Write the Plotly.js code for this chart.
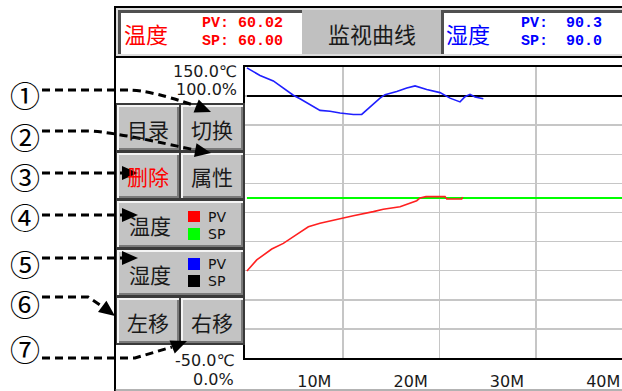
<!DOCTYPE html>
<html><head><meta charset="utf-8">
<script src="https://cdn.plot.ly/plotly-3.0.1.min.js"></script>
<style>html,body{margin:0;padding:0;background:#fff;overflow:hidden}#chart{width:622px;height:391px}</style>
</head><body><div id="chart"></div>
<script>
// ---------- data (minutes, values) ----------
const tempTime = [0, 1.02, 2.58, 3.78, 4.99, 6.38, 7.59, 9.67, 11.05, 13.13, 14.16, 15.9, 17.63, 17.98, 18.6, 20.57, 20.75, 22.3, 22.4];
const tempPV   = [9.8, 17.4, 24.9, 28.8, 34.1, 40.2, 42.6, 46.0, 47.8, 50.6, 52.2, 54.0, 58.1, 60.0, 60.9, 60.9, 59.3, 59.3, 60.6];
const humTime  = [0, 1.36, 2.74, 4.82, 5.51, 7.59, 8.63, 9.67, 11.05, 11.92, 13.82, 14.34, 15.56, 16.6, 17.46, 18.67, 20.05, 21.09, 22.13, 22.65, 23.17, 23.69, 24.55];
const humPV    = [99.7, 97.1, 95.2, 90.3, 89.1, 85.1, 84.8, 84.2, 83.7, 83.7, 89.3, 90.5, 91.6, 92.8, 93.5, 92.3, 91.2, 89.3, 88.0, 89.8, 90.6, 89.7, 89.1];
const spTime   = [0, 40];
const tempSP   = [60, 60];
const humSP    = [90, 90];
const tempRange = [-50, 150];
const humRange  = [0, 100];
const xTickVals = [10, 20, 30, 40];
const xTickText = ['10M', '20M', '30M', '40M'];
const tempPVNow = '60.02', tempSPNow = '60.00';
const humPVNow = '90.3', humSPNow = '90.0';
const headerTitle = '监视曲线';
const tempName = '温度', humName = '湿度';
const buttonLabels = ['目录', '切换', '删除', '属性', '温度', '湿度', '左移', '右移'];
const calloutLabels = ['①', '②', '③', '④', '⑤', '⑥', '⑦'];

// ---------- helpers (pixel -> paper) ----------
const W = 622, H = 391;
const X = p => p / W, Y = p => 1 - p / H;
const shapes = [], annotations = [];
const CJK = '"Noto Sans CJK SC", sans-serif';
const MONO = '"Liberation Mono", monospace';
const SANS = '"DejaVu Sans", sans-serif';
function rect(x0, y0, x1, y1, fill) {
  shapes.push({type: 'rect', xref: 'paper', yref: 'paper', x0: X(x0), x1: X(x1), y0: Y(y1), y1: Y(y0), fillcolor: fill, line: {width: 0}, layer: 'above'});
}
function hline(x0, x1, y, color, w) {
  shapes.push({type: 'line', xref: 'paper', yref: 'paper', x0: X(x0), x1: X(x1), y0: Y(y), y1: Y(y), line: {color: color, width: w}, layer: 'above'});
}
function vline(x, y0, y1, color, w) {
  shapes.push({type: 'line', xref: 'paper', yref: 'paper', x0: X(x), x1: X(x), y0: Y(y0), y1: Y(y1), line: {color: color, width: w}, layer: 'above'});
}
function text(t, x, y, size, color, family, xanchor) {
  annotations.push({xref: 'paper', yref: 'paper', x: X(x), y: Y(y), text: t, showarrow: false, xanchor: xanchor || 'center', yanchor: 'middle', font: {size: size, color: color, family: family}});
}
function pth(pts) { // pts: array of [cmd, x, y, ...]
  return pts.map(s => s[0] + s.slice(1).reduce((a, v, i) => a + (i % 2 === 0 ? X(v) : ',' + Y(v) + ' '), '')).join(' ');
}
function dashed(pts) {
  shapes.push({type: 'path', xref: 'paper', yref: 'paper', path: pth(pts), line: {color: '#000', width: 3, dash: '8px,5px'}, layer: 'above'});
}
function head(tx, ty, dx, dy) {
  const L = Math.hypot(dx, dy), ux = dx / L, uy = dy / L, len = 16, hw = 7;
  const bx = tx - ux * len, by = ty - uy * len;
  shapes.push({type: 'path', xref: 'paper', yref: 'paper', layer: 'above',
    path: `M${X(tx)},${Y(ty)} L${X(bx - uy * hw)},${Y(by + ux * hw)} L${X(bx + uy * hw)},${Y(by - ux * hw)} Z`,
    fillcolor: '#000', line: {width: 0}});
}
function button(x0, y0, x1, y1, label, color, tx) {
  rect(x0, y0, x1, y1, '#f4f4f4');
  rect(x0 + 2, y0 + 2, x1, y1, '#7a7a7a');
  rect(x0 + 2, y0 + 2, x1 - 2, y1 - 2, '#c3c3c3');
  text(label, tx || (x0 + x1) / 2, (y0 + y1) / 2 + 1, 21, color, CJK);
}

// ---------- frame & header ----------
rect(115, 7, 622, 57, '#dcdcdc');
rect(302, 10, 441, 54, '#c0c0c0');
rect(118, 10, 302, 54, '#505050');
rect(121, 13, 302, 54, '#ffffff');
rect(441, 10, 622, 54, '#505050');
rect(444, 13, 622, 54, '#ffffff');
hline(114, 622, 7, '#000', 2);
hline(114, 622, 57, '#000', 2);
vline(115, 6, 391, '#000', 2);
hline(115, 622, 390, '#666', 1);
text(tempName, 146, 33, 22, '#ff0000', CJK);
text('<b>PV: ' + tempPVNow + '</b>', 200, 23, 15, '#ff0000', MONO, 'left');
text('<b>SP: ' + tempSPNow + '</b>', 200, 41, 15, '#ff0000', MONO, 'left');
text(headerTitle, 372, 33, 22, '#1a1a1a', CJK);
text(humName, 468, 33, 22, '#0000ff', CJK);
text('<b>PV:  ' + humPVNow + '</b>', 519, 23, 15, '#0000ff', MONO, 'left');
text('<b>SP:  ' + humSPNow + '</b>', 519, 41, 15, '#0000ff', MONO, 'left');

// ---------- axis end labels ----------
text(tempRange[1].toFixed(1) + '℃', 239, 71, 16, '#1a1a1a', SANS, 'right');
text(humRange[1].toFixed(1) + '%', 239, 90, 16, '#1a1a1a', SANS, 'right');
text(tempRange[0].toFixed(1) + '℃', 236, 360, 16, '#1a1a1a', SANS, 'right');
text(humRange[0].toFixed(1) + '%', 236, 379, 16, '#1a1a1a', SANS, 'right');

// ---------- button panel ----------
rect(116, 103, 245, 345, '#3a3a3a');
button(117, 105, 179, 150, buttonLabels[0], '#1a1a1a');
button(181, 105, 243, 150, buttonLabels[1], '#1a1a1a');
button(117, 153, 179, 198, buttonLabels[2], '#ff0000');
button(181, 153, 243, 198, buttonLabels[3], '#1a1a1a');
button(117, 201, 243, 247, buttonLabels[4], '#1a1a1a', 150);
button(117, 250, 243, 295, buttonLabels[5], '#1a1a1a', 150);
button(117, 298, 179, 343, buttonLabels[6], '#1a1a1a');
button(181, 298, 243, 343, buttonLabels[7], '#1a1a1a');
rect(188, 211, 200, 222, '#ff0000');
rect(188, 228, 200, 240, '#00ff00');
rect(188, 258, 200, 270, '#0000ff');
rect(188, 275, 200, 287, '#000000');
text('PV', 206, 217, 14, '#111', SANS, 'left');
text('SP', 206, 234, 14, '#111', SANS, 'left');
text('PV', 206, 264, 14, '#111', SANS, 'left');
text('SP', 206, 281, 14, '#111', SANS, 'left');

// ---------- callouts ----------
const calloutY = [94, 136, 176, 216, 263, 303, 348];
calloutLabels.forEach((c, i) => text(c, 25, calloutY[i], 30, '#000', CJK));
dashed([['M', 42, 90], ['L', 128, 90], ['Q', 150, 90, 196, 106]]); head(211, 112, 1, 0.4);
dashed([['M', 42, 131], ['L', 88, 131], ['Q', 110, 131, 195, 150]]); head(211, 153, 1, 0.18);
dashed([['M', 42, 173], ['L', 122, 173]]); head(138, 173, 1, 0);
dashed([['M', 42, 215], ['L', 122, 215]]); head(138, 215, 1, 0);
dashed([['M', 42, 258], ['L', 122, 258]]); head(138, 258, 1, 0);
dashed([['M', 42, 297], ['L', 88, 297], ['L', 103, 307]]); head(115, 316, 1, 0.75);
dashed([['M', 42, 358], ['L', 135, 358], ['L', 172, 347]]); head(187, 341, 1, -0.4);

// ---------- traces ----------
const traces = [
  {x: spTime, y: tempSP, mode: 'lines', line: {color: '#00ff00', width: 2}, yaxis: 'y', hoverinfo: 'skip'},
  {x: spTime, y: humSP, mode: 'lines', line: {color: '#000000', width: 2}, yaxis: 'y2', hoverinfo: 'skip'},
  {x: tempTime, y: tempPV, mode: 'lines', line: {color: '#ff2020', width: 1.6}, yaxis: 'y'},
  {x: humTime, y: humPV, mode: 'lines', line: {color: '#1f1fff', width: 1.6}, yaxis: 'y2'},
  {x: [], y: [], mode: 'lines', xaxis: 'x2', yaxis: 'y', hoverinfo: 'skip'}
];

const xr = [-0.2, 38.95], shift = 3.0;
const layout = {
  width: W, height: H, margin: {l: 0, r: 0, t: 0, b: 0, pad: 0},
  paper_bgcolor: '#ffffff', plot_bgcolor: '#ffffff', showlegend: false,
  xaxis: {domain: [245 / W, 1], range: xr, tickvals: xTickVals, showticklabels: false, ticks: '',
    showgrid: true, gridcolor: '#c6c6c6', gridwidth: 1.5, zeroline: false,
    showline: true, linecolor: '#000', linewidth: 2, mirror: true, fixedrange: true},
  xaxis2: {overlaying: 'x', anchor: 'y', side: 'bottom', domain: [245 / W, 1], range: [xr[0] + shift, xr[1] + shift],
    tickvals: xTickVals, ticktext: xTickText, ticks: '', showgrid: false, zeroline: false, showline: false,
    ticklabelstandoff: 12, tickfont: {family: SANS, size: 16, color: '#1a1a1a'}},
  yaxis: {domain: [1 - 358 / H, 1 - 67 / H], range: tempRange, tick0: tempRange[0], dtick: 20,
    showticklabels: false, ticks: '', showgrid: true, gridcolor: '#c6c6c6', gridwidth: 1.5, zeroline: false,
    showline: true, linecolor: '#000', linewidth: 2},
  yaxis2: {overlaying: 'y', range: humRange, showticklabels: false, ticks: '', showgrid: false, zeroline: false, showline: false},
  shapes: shapes, annotations: annotations
};
Plotly.newPlot('chart', traces, layout, {staticPlot: true, displayModeBar: false});
</script>
</body></html>
